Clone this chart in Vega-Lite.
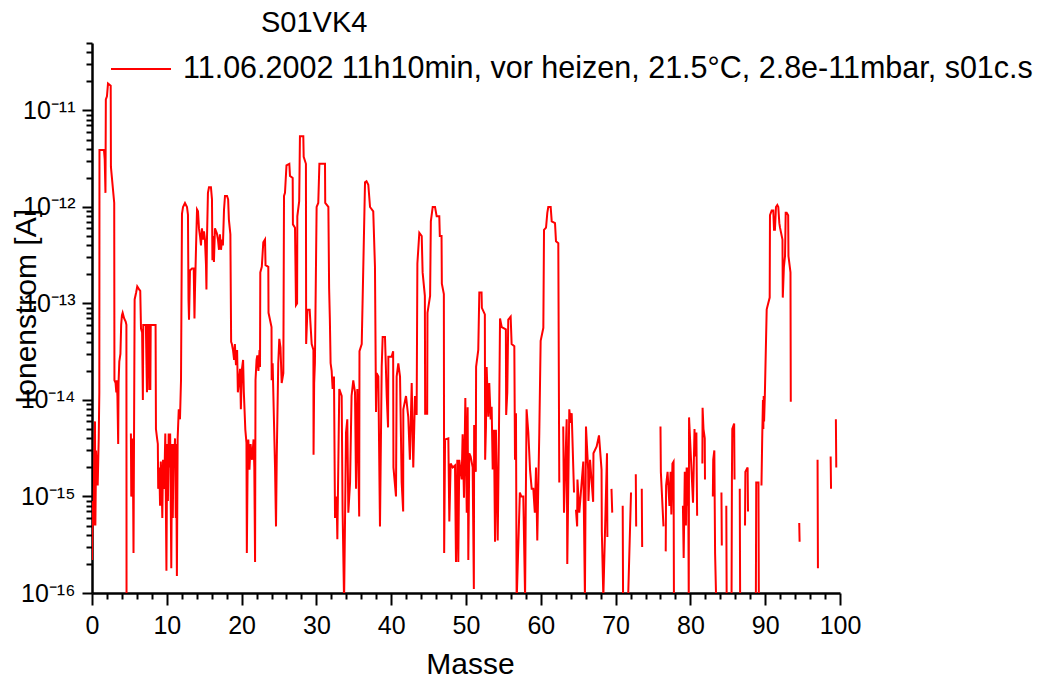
{
  "$schema": "https://vega.github.io/schema/vega-lite/v6.json",
  "width": 748,
  "height": 550,
  "autosize": {"type": "none"},
  "padding": {"left": 92, "top": 43, "right": 200, "bottom": 84},
  "title": {"text": "S01VK4", "anchor": "start", "frame": "group", "dx": 169, "dy": 34, "offset": 4, "baseline": "alphabetic", "fontSize": 29, "font": "Liberation Sans", "fontWeight": "normal", "color": "black"},
  "data": {"values": [
    {"m":0.0,"i":2.2e-16},{"m":0.1,"i":9e-16},{"m":0.2,"i":5e-16},{"m":0.3,"i":2.5e-15},{"m":0.4,"i":6e-15},{"m":0.45,"i":5e-16},{"m":0.55,"i":3e-15},{"m":0.65,"i":2e-15},{"m":0.76,"i":1.3e-15},{"m":0.9,"i":4e-15},{"m":0.98,"i":1.2e-14},
    {"m":1.0,"i":3.9e-12},{"m":1.6,"i":3.9e-12},{"m":1.7,"i":3.1e-12},{"m":1.8,"i":1.4e-12},{"m":1.85,"i":1.3e-11},{"m":2.0,"i":1.4e-11},{"m":2.14,"i":1.9e-11},{"m":2.5,"i":1.8e-11},{"m":2.53,"i":2.6e-12},{"m":2.97,"i":1.1e-12},
    {"m":3.0,"i":1.6e-14},{"m":3.15,"i":1.5e-14},{"m":3.25,"i":1.2e-14},{"m":3.3,"i":1.6e-14},{"m":3.4,"i":1.1e-14},{"m":3.5,"i":3.5e-15},{"m":3.55,"i":1.5e-14},{"m":3.65,"i":2.5e-14},{"m":3.8,"i":3e-14},{"m":3.9,"i":6e-14},{"m":4.0,"i":7.5e-14},{"m":4.1,"i":8e-14},{"m":4.3,"i":7e-14},{"m":4.5,"i":6.5e-14},{"m":4.6,"i":6e-14},{"m":4.62,"i":5e-17},{"m":4.7,"i":null},
    {"m":5.2,"i":4.5e-15},{"m":5.25,"i":1e-15},{"m":5.35,"i":1.1e-15},{"m":5.45,"i":4e-15},{"m":5.55,"i":2.6e-16},{"m":5.7,"i":1.1e-13},{"m":5.9,"i":1.3e-13},{"m":6.05,"i":1.5e-13},{"m":6.3,"i":1.4e-13},{"m":6.45,"i":1.35e-13},{"m":6.55,"i":5.5e-14},{"m":6.7,"i":5e-14},{"m":6.8,"i":1e-14},{"m":6.85,"i":6e-14},{"m":7.2,"i":6e-14},{"m":7.35,"i":1.2e-14},{"m":7.45,"i":6e-14},{"m":7.6,"i":6e-14},{"m":7.65,"i":1.3e-14},{"m":7.8,"i":1.3e-14},{"m":7.85,"i":6e-14},{"m":8.5,"i":6e-14},
    {"m":8.55,"i":5e-15},{"m":8.7,"i":4e-15},{"m":8.8,"i":3.5e-15},{"m":8.85,"i":1.2e-15},{"m":9.0,"i":2e-15},{"m":9.1,"i":8e-16},{"m":9.2,"i":2.3e-15},{"m":9.3,"i":1.5e-15},{"m":9.4,"i":6e-16},{"m":9.5,"i":2.4e-15},{"m":9.65,"i":1.2e-15},{"m":9.8,"i":4.5e-15},{"m":9.95,"i":1.7e-16},{"m":10.05,"i":3.5e-15},{"m":10.15,"i":9e-16},{"m":10.25,"i":4.5e-15},{"m":10.35,"i":2e-15},{"m":10.45,"i":4.5e-15},{"m":10.6,"i":1.8e-16},{"m":10.7,"i":3.5e-15},{"m":10.8,"i":6e-16},{"m":10.9,"i":3.5e-15},{"m":11.0,"i":2.5e-15},{"m":11.1,"i":4e-15},{"m":11.2,"i":6e-16},{"m":11.25,"i":3.5e-15},{"m":11.35,"i":1.5e-16},{"m":11.45,"i":4e-15},{"m":11.6,"i":8e-15},{"m":11.76,"i":6.3e-15},{"m":11.9,"i":1.6e-14},
    {"m":12.03,"i":8.5e-13},{"m":12.17,"i":1e-12},{"m":12.43,"i":1.1e-12},{"m":12.7,"i":1e-12},{"m":12.83,"i":8.3e-13},{"m":12.9,"i":1.1e-13},{"m":12.97,"i":6.8e-14},{"m":13.1,"i":2.2e-13},{"m":13.37,"i":2.3e-13},{"m":13.6,"i":2.3e-13},{"m":13.7,"i":7e-14},{"m":13.77,"i":1.4e-13},{"m":13.9,"i":3.6e-13},{"m":14.04,"i":9.4e-13},{"m":14.17,"i":9e-13},{"m":14.3,"i":6e-13},{"m":14.44,"i":5e-13},{"m":14.57,"i":4e-13},{"m":14.7,"i":6e-13},{"m":14.84,"i":4.6e-13},{"m":14.97,"i":5.6e-13},{"m":15.1,"i":4.6e-13},{"m":15.24,"i":2.5e-13},{"m":15.3,"i":1.4e-13},{"m":15.37,"i":4.6e-13},{"m":15.5,"i":1.4e-12},{"m":15.64,"i":1.6e-12},{"m":15.9,"i":1.6e-12},{"m":16.04,"i":1.2e-12},{"m":16.1,"i":2.8e-13},{"m":16.17,"i":5e-13},{"m":16.3,"i":2.7e-13},{"m":16.44,"i":6e-13},{"m":16.7,"i":5.3e-13},{"m":16.84,"i":4.6e-13},{"m":16.98,"i":3.6e-13},{"m":17.1,"i":5.2e-13},{"m":17.25,"i":3.6e-13},{"m":17.38,"i":4.6e-13},{"m":17.5,"i":4e-13},{"m":17.65,"i":9.4e-13},{"m":17.78,"i":1.3e-12},{"m":18.05,"i":1.3e-12},{"m":18.2,"i":1.2e-12},{"m":18.3,"i":7.4e-13},{"m":18.5,"i":5.2e-13},
    {"m":18.6,"i":4e-14},{"m":18.7,"i":3.8e-14},{"m":18.85,"i":3.3e-14},{"m":19.0,"i":2.6e-14},{"m":19.1,"i":3.8e-14},{"m":19.25,"i":2.3e-14},{"m":19.4,"i":3.3e-14},{"m":19.5,"i":1.2e-14},{"m":19.65,"i":1.6e-14},{"m":19.8,"i":2.1e-14},{"m":19.9,"i":8e-15},{"m":20.05,"i":2.1e-14},{"m":20.2,"i":2.6e-14},{"m":20.3,"i":1.2e-14},{"m":20.5,"i":4.9e-15},{"m":20.65,"i":3.6e-15},{"m":20.7,"i":2.6e-16},{"m":20.8,"i":1.9e-15},{"m":20.9,"i":3.9e-15},{"m":21.05,"i":1.9e-15},{"m":21.2,"i":3.5e-15},{"m":21.4,"i":2.4e-15},{"m":21.6,"i":3.9e-15},{"m":21.7,"i":2e-15},{"m":21.8,"i":2.1e-16},{"m":21.86,"i":1.6e-14},{"m":22.0,"i":2.6e-14},{"m":22.1,"i":2.9e-14},{"m":22.25,"i":2e-14},{"m":22.4,"i":3.3e-14},{"m":22.46,"i":2.2e-14},
    {"m":22.5,"i":2.1e-13},{"m":22.7,"i":2.4e-13},{"m":22.9,"i":4.3e-13},{"m":23.13,"i":4.6e-13},{"m":23.2,"i":2.5e-13},{"m":23.57,"i":2.4e-13},{"m":23.6,"i":8e-14},{"m":24.0,"i":5.7e-14},{"m":24.02,"i":1.6e-14},{"m":24.15,"i":2.4e-14},{"m":24.47,"i":2e-15},{"m":24.6,"i":4.9e-16},{"m":24.7,"i":2.6e-15},{"m":24.9,"i":2.4e-14},{"m":25.04,"i":4.3e-14},{"m":25.2,"i":3.5e-14},{"m":25.36,"i":1.5e-14},{"m":25.58,"i":1.9e-14},
    {"m":25.67,"i":1.3e-12},{"m":25.8,"i":1.4e-12},{"m":26.0,"i":2.7e-12},{"m":26.38,"i":2.8e-12},{"m":26.47,"i":2.1e-12},{"m":26.83,"i":2e-12},{"m":26.86,"i":6.6e-13},{"m":27.14,"i":6.1e-13},{"m":27.27,"i":9.6e-14},{"m":27.42,"i":1e-13},{"m":27.45,"i":8e-13},{"m":27.7,"i":1.15e-12},{"m":27.8,"i":5.4e-12},{"m":28.25,"i":5.4e-12},{"m":28.3,"i":3.3e-12},{"m":28.6,"i":2.8e-12},{"m":28.63,"i":3.8e-14},{"m":28.8,"i":8.6e-14},{"m":29.1,"i":8.6e-14},{"m":29.37,"i":3.8e-14},{"m":29.6,"i":3.3e-14},{"m":29.62,"i":2.7e-15},{"m":29.7,"i":1.5e-14},{"m":29.8,"i":2.4e-14},
    {"m":30.03,"i":1e-12},{"m":30.25,"i":1.1e-12},{"m":30.4,"i":2.8e-12},{"m":31.15,"i":2.8e-12},{"m":31.18,"i":1.1e-12},{"m":31.6,"i":1e-12},{"m":31.7,"i":1.45e-13},{"m":31.8,"i":6.8e-14},{"m":31.9,"i":2.4e-14},{"m":32.04,"i":2e-14},{"m":32.17,"i":1.3e-14},{"m":32.35,"i":1.75e-14},{"m":32.49,"i":6e-16},{"m":32.7,"i":1e-15},{"m":32.8,"i":3.6e-16},{"m":33.06,"i":1.3e-14},{"m":33.38,"i":1.1e-14},{"m":33.5,"i":7.3e-16},{"m":33.7,"i":8e-17},{"m":33.96,"i":4.6e-15},{"m":34.13,"i":6.3e-15},{"m":34.27,"i":6.8e-16},{"m":34.5,"i":1.4e-15},{"m":34.7,"i":1.1e-14},{"m":34.93,"i":1.6e-14},{"m":35.16,"i":1.2e-14},{"m":35.3,"i":1.2e-15},{"m":35.47,"i":1.3e-14},{"m":35.72,"i":6.2e-16},{"m":35.76,"i":3.2e-14},{"m":36.06,"i":3.8e-14},
    {"m":36.5,"i":1.8e-12},{"m":36.7,"i":1.85e-12},{"m":36.94,"i":1.7e-12},{"m":37.17,"i":1e-12},{"m":37.6,"i":9e-13},{"m":37.83,"i":2.4e-13},{"m":37.97,"i":7.5e-15},{"m":38.06,"i":1.9e-14},{"m":38.28,"i":1.75e-14},{"m":38.5,"i":4.9e-16},{"m":38.73,"i":2.2e-14},{"m":38.86,"i":4.5e-14},{"m":39.17,"i":4.5e-14},{"m":39.4,"i":1.1e-14},{"m":39.58,"i":5.2e-15},{"m":39.62,"i":2.8e-14},{"m":40.06,"i":2.8e-14},{"m":40.26,"i":3.2e-14},{"m":40.3,"i":2e-15},{"m":40.64,"i":1e-15},{"m":40.73,"i":1.75e-14},{"m":40.95,"i":2.4e-14},{"m":41.18,"i":1.75e-14},{"m":41.4,"i":1.4e-15},{"m":41.6,"i":7e-16},{"m":41.62,"i":8e-15},{"m":41.98,"i":1.1e-14},{"m":42.28,"i":6.7e-15},{"m":42.5,"i":2.4e-15},{"m":42.74,"i":1.5e-14},{"m":42.95,"i":2e-15},{"m":43.18,"i":1.1e-14},{"m":43.4,"i":7e-15},
    {"m":43.5,"i":2.6e-13},{"m":43.76,"i":5.4e-13},{"m":44.08,"i":5e-13},{"m":44.2,"i":2.1e-13},{"m":44.5,"i":1.2e-13},{"m":44.54,"i":7.2e-15},{"m":44.81,"i":7.2e-15},{"m":44.85,"i":8e-14},{"m":45.2,"i":1.2e-13},{"m":45.3,"i":7.1e-13},{"m":45.55,"i":1e-12},{"m":45.86,"i":1e-12},{"m":46.08,"i":8e-13},{"m":46.43,"i":8e-13},{"m":46.5,"i":5e-13},{"m":46.73,"i":5e-13},{"m":46.77,"i":1.6e-13},{"m":47.04,"i":1.25e-13},{"m":47.08,"i":2.6e-16},
    {"m":47.2,"i":3.9e-15},{"m":47.64,"i":4e-15},{"m":47.77,"i":5.5e-16},{"m":47.95,"i":2.2e-15},{"m":48.22,"i":2e-15},{"m":48.53,"i":2.1e-15},{"m":48.66,"i":2.1e-16},{"m":48.84,"i":2.4e-15},{"m":48.97,"i":2.1e-16},{"m":49.1,"i":2.4e-15},{"m":49.42,"i":1.5e-15},{"m":49.55,"i":4.4e-15},{"m":49.73,"i":9.7e-16},{"m":49.91,"i":1.05e-14},{"m":50.1,"i":6.8e-16},{"m":50.22,"i":8.4e-15},{"m":50.31,"i":2.2e-16},{"m":50.44,"i":2.8e-15},{"m":50.62,"i":2.6e-15},{"m":50.89,"i":2e-15},{"m":51.05,"i":1.1e-16},{"m":51.09,"i":5.5e-15},{"m":51.31,"i":1.8e-15},{"m":51.35,"i":2.2e-14},{"m":51.64,"i":3.3e-14},{"m":51.78,"i":1.3e-13},{"m":52.08,"i":1.3e-13},{"m":52.12,"i":9e-14},{"m":52.52,"i":7.7e-14},{"m":52.56,"i":2.4e-15},{"m":52.67,"i":5.3e-15},{"m":52.76,"i":2.2e-14},{"m":52.98,"i":6.7e-15},{"m":53.11,"i":1.5e-14},{"m":53.3,"i":6.3e-15},{"m":53.43,"i":8.5e-15},{"m":53.57,"i":1.9e-15},{"m":53.74,"i":4.9e-15},{"m":53.88,"i":3.4e-16},{"m":54.0,"i":4.9e-15},{"m":54.24,"i":3.5e-16},{"m":54.45,"i":1e-14},{"m":54.55,"i":7e-14},{"m":54.77,"i":5.7e-14},{"m":55.33,"i":5.4e-14},{"m":55.37,"i":7e-15},{"m":55.52,"i":1.2e-14},{"m":55.65,"i":6.8e-14},{"m":55.97,"i":7.3e-14},{"m":56.1,"i":3.8e-14},{"m":56.46,"i":3.6e-14},{"m":56.55,"i":2.4e-15},{"m":56.68,"i":7.3e-15},{"m":56.77,"i":8e-17},
    {"m":57.2,"i":1.1e-15},{"m":57.4,"i":1e-15},{"m":57.66,"i":1e-15},{"m":57.9,"i":9e-17},{"m":58.0,"i":1e-15},{"m":58.1,"i":8e-15},{"m":58.33,"i":4.6e-15},{"m":58.56,"i":1.9e-15},{"m":58.78,"i":1.2e-15},{"m":59.0,"i":1.2e-15},{"m":59.2,"i":6.8e-16},{"m":59.36,"i":2e-15},{"m":59.53,"i":3.5e-16},{"m":59.8,"i":4.6e-15},{"m":59.98,"i":4.1e-14},{"m":60.34,"i":5.6e-14},{"m":60.43,"i":5.8e-13},{"m":60.7,"i":6.1e-13},{"m":60.87,"i":8.7e-13},{"m":61.0,"i":1e-12},{"m":61.32,"i":1e-12},{"m":61.46,"i":7.1e-13},{"m":61.9,"i":6.8e-13},{"m":62.03,"i":4.4e-13},{"m":62.34,"i":4.2e-13},{"m":62.47,"i":1.4e-15},{"m":62.6,"i":null},
    {"m":63.0,"i":5.3e-15},{"m":63.1,"i":6.8e-16},{"m":63.46,"i":6.3e-15},{"m":63.54,"i":2e-16},{"m":63.81,"i":8e-15},{"m":63.99,"i":5.8e-15},{"m":64.13,"i":7.3e-15},{"m":64.35,"i":1.9e-15},{"m":64.44,"i":1.1e-15},{"m":64.55,"i":null},
    {"m":64.7,"i":7.3e-16},{"m":64.86,"i":4.9e-16},{"m":64.9,"i":1.5e-15},{"m":65.15,"i":6.8e-16},{"m":65.68,"i":2.3e-15},{"m":65.9,"i":9e-17},{"m":66.04,"i":5.3e-15},{"m":66.33,"i":1.9e-15},{"m":66.37,"i":9e-16},{"m":66.58,"i":2.4e-15},{"m":67.0,"i":8.8e-16},{"m":67.04,"i":2.8e-15},{"m":67.47,"i":3.3e-15},{"m":67.78,"i":4.3e-15},{"m":68.12,"i":1.9e-15},{"m":68.16,"i":4.3e-16},{"m":68.36,"i":9e-17},{"m":68.85,"i":2.8e-15},{"m":68.9,"i":3.8e-16},{"m":69.0,"i":null},
    {"m":69.45,"i":1.2e-15},{"m":69.55,"i":6.8e-16},{"m":69.6,"i":null},
    {"m":70.95,"i":8e-16},{"m":71.0,"i":8e-17},{"m":71.1,"i":null},
    {"m":71.66,"i":8e-17},{"m":72.06,"i":1.1e-15},{"m":72.2,"i":null},
    {"m":72.7,"i":1.7e-15},{"m":72.75,"i":4.9e-16},{"m":72.9,"i":null},
    {"m":73.5,"i":1.2e-15},{"m":73.55,"i":3e-16},{"m":73.7,"i":null},
    {"m":76.0,"i":5.3e-15},{"m":76.05,"i":1.8e-15},{"m":76.4,"i":4.9e-16},{"m":76.5,"i":null},
    {"m":76.7,"i":2.7e-16},{"m":76.75,"i":1.3e-15},{"m":76.95,"i":1.8e-15},{"m":77.2,"i":8e-16},{"m":77.35,"i":1.8e-15},{"m":77.45,"i":6.5e-16},{"m":77.6,"i":2.2e-15},{"m":77.75,"i":2.3e-15},{"m":77.8,"i":8e-17},{"m":77.9,"i":null},
    {"m":79.0,"i":8e-16},{"m":79.1,"i":2.3e-16},{"m":79.25,"i":1.8e-15},{"m":79.4,"i":5e-16},{"m":79.5,"i":2e-15},{"m":79.6,"i":8e-16},{"m":79.7,"i":2e-15},{"m":79.78,"i":8e-17},{"m":79.82,"i":6.6e-15},{"m":80.35,"i":8.6e-16},{"m":80.55,"i":5e-15},{"m":80.6,"i":2.6e-15},{"m":80.8,"i":4.6e-15},{"m":80.9,"i":6.3e-16},{"m":81.0,"i":null},
    {"m":81.6,"i":2.2e-15},{"m":81.63,"i":8.3e-15},{"m":81.75,"i":5e-15},{"m":81.92,"i":4e-15},{"m":81.95,"i":1.5e-15},{"m":82.1,"i":null},
    {"m":83.0,"i":1e-15},{"m":83.05,"i":2.4e-15},{"m":83.2,"i":3e-15},{"m":83.3,"i":2.6e-16},{"m":83.45,"i":8e-17},{"m":83.6,"i":null},
    {"m":84.15,"i":1.1e-15},{"m":84.2,"i":3.1e-16},{"m":84.3,"i":null},
    {"m":84.8,"i":8e-16},{"m":84.85,"i":8e-17},{"m":85.0,"i":null},
    {"m":85.5,"i":8e-17},{"m":85.55,"i":1.5e-15},{"m":85.6,"i":5e-15},{"m":85.85,"i":5.7e-15},{"m":85.9,"i":1.5e-15},{"m":86.0,"i":null},
    {"m":86.6,"i":1.2e-15},{"m":86.65,"i":8e-17},{"m":86.8,"i":null},
    {"m":87.3,"i":5e-16},{"m":87.35,"i":1.8e-15},{"m":87.65,"i":2e-15},{"m":87.7,"i":7e-16},{"m":87.8,"i":null},
    {"m":88.75,"i":8e-17},{"m":88.8,"i":1.4e-15},{"m":89.1,"i":1.4e-15},{"m":89.15,"i":8e-17},{"m":89.3,"i":null},
    {"m":89.5,"i":1.3e-15},{"m":89.6,"i":4e-15},{"m":89.7,"i":1e-14},{"m":89.75,"i":5e-15},{"m":89.8,"i":1.1e-14},{"m":89.85,"i":6e-15},{"m":89.95,"i":1.1e-14},{"m":90.2,"i":8.7e-14},{"m":90.6,"i":1.15e-13},{"m":90.64,"i":8.2e-13},{"m":90.87,"i":9.2e-13},{"m":91.08,"i":9.2e-13},{"m":91.18,"i":5.8e-13},{"m":91.3,"i":5.8e-13},{"m":91.44,"i":1e-12},{"m":91.62,"i":1.05e-12},{"m":91.75,"i":1e-12},{"m":91.89,"i":6.8e-13},{"m":91.98,"i":6.1e-13},{"m":92.31,"i":4.6e-13},{"m":92.35,"i":1.15e-13},{"m":92.5,"i":2.4e-13},{"m":92.65,"i":3.1e-13},{"m":92.74,"i":8.7e-13},{"m":92.87,"i":8.7e-13},{"m":93.07,"i":8.2e-13},{"m":93.11,"i":3.1e-13},{"m":93.38,"i":2.1e-13},{"m":93.42,"i":9.6e-15},{"m":93.6,"i":null},
    {"m":94.55,"i":5.3e-16},{"m":94.6,"i":3.4e-16},{"m":94.7,"i":null},
    {"m":97.0,"i":2.4e-15},{"m":97.05,"i":1.8e-16},{"m":97.2,"i":null},
    {"m":98.75,"i":2.6e-15},{"m":98.8,"i":1.2e-15},{"m":98.9,"i":null},
    {"m":99.45,"i":6.3e-15},{"m":99.5,"i":2e-15}
  ]},
  "mark": {"type": "line", "clip": true, "strokeWidth": 2, "invalid": "break-paths-filter-domains"},
  "encoding": {
    "x": {
      "field": "m", "type": "quantitative",
      "scale": {"domain": [0, 100], "nice": false, "zero": false},
      "axis": {
        "title": "Masse",
        "values": [0,2,4,6,8,10,12,14,16,18,20,22,24,26,28,30,32,34,36,38,40,42,44,46,48,50,52,54,56,58,60,62,64,66,68,70,72,74,76,78,80,82,84,86,88,90,92,94,96,98,100],
        "labelExpr": "datum.value % 10 == 0 ? datum.label : ''",
        "tickSize": {"condition": {"test": "datum.value % 10 == 0", "value": 12}, "value": 6},
        "tickWidth": 2, "tickColor": "black",
        "domainColor": "black", "domainWidth": 2.5,
        "grid": false,
        "labelFont": "Liberation Sans", "labelFontSize": 25, "labelColor": "black", "labelPadding": 8,
        "labelOverlap": false, "labelFlush": false,
        "titleFont": "Liberation Sans", "titleFontSize": 30, "titleFontWeight": "normal", "titleColor": "black",
        "titleX": 378, "titleY": 80, "titleBaseline": "alphabetic", "titleAlign": "center"
      }
    },
    "y": {
      "field": "i", "type": "quantitative",
      "scale": {"type": "log", "domain": [1e-16, 5e-11], "nice": false},
      "axis": {
        "title": "Ionenstrom [A]",
        "values": [1e-16,2e-16,3e-16,4e-16,5e-16,6e-16,7e-16,8e-16,9e-16,1e-15,2e-15,3e-15,4e-15,5e-15,6e-15,7e-15,8e-15,9e-15,1e-14,2e-14,3e-14,4e-14,5e-14,6e-14,7e-14,8e-14,9e-14,1e-13,2e-13,3e-13,4e-13,5e-13,6e-13,7e-13,8e-13,9e-13,1e-12,2e-12,3e-12,4e-12,5e-12,6e-12,7e-12,8e-12,9e-12,1e-11,2e-11,3e-11,4e-11,5e-11],
        "labelExpr": "abs(log(datum.value)/LN10 - round(log(datum.value)/LN10)) > 0.01 ? '' : round(log(datum.value)/LN10) == -16 ? '10⁻¹⁶' : round(log(datum.value)/LN10) == -15 ? '10⁻¹⁵' : round(log(datum.value)/LN10) == -14 ? '10⁻¹⁴' : round(log(datum.value)/LN10) == -13 ? '10⁻¹³' : round(log(datum.value)/LN10) == -12 ? '10⁻¹²' : '10⁻¹¹'",
        "tickSize": {"condition": {"test": "abs(log(datum.value)/LN10 - round(log(datum.value)/LN10)) < 0.01", "value": 10}, "value": 6},
        "tickWidth": 2, "tickColor": "black",
        "domainColor": "black", "domainWidth": 2.5,
        "grid": false,
        "labelFont": "Liberation Sans", "labelFontSize": 25, "labelColor": "black", "labelPadding": 7,
        "labelOverlap": false, "labelFlush": false,
        "titleFont": "Liberation Sans", "titleFontSize": 30, "titleFontWeight": "normal", "titleColor": "black",
        "titleX": -57, "titleY": 263, "titleAngle": -90, "titleBaseline": "alphabetic", "titleAlign": "center"
      }
    },
    "color": {
      "datum": "11.06.2002 11h10min, vor heizen, 21.5°C, 2.8e-11mbar, s01c.s",
      "scale": {"range": ["#ff0000"]},
      "legend": {
        "orient": "none", "legendX": 18, "legendY": -5, "title": null,
        "symbolType": "stroke", "symbolSize": 3600, "symbolStrokeWidth": 2,
        "labelFont": "Liberation Sans", "labelFontSize": 30.5, "labelColor": "black",
        "labelLimit": 0, "labelOffset": 11, "padding": 0
      }
    }
  },
  "config": {"view": {"stroke": null}}
}
